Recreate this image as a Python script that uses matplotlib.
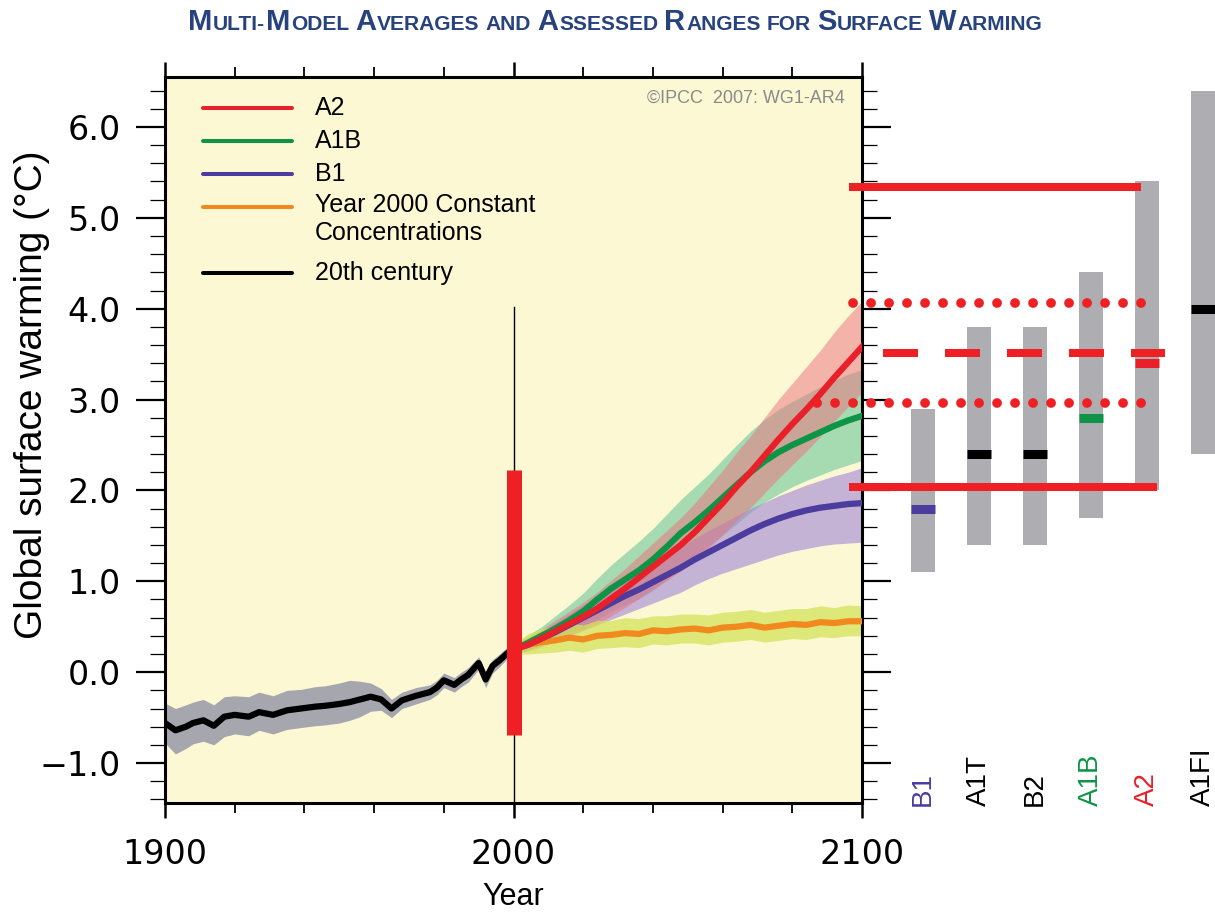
import matplotlib
matplotlib.use('Agg')
import matplotlib.pyplot as plt
from matplotlib.ticker import MultipleLocator, FixedLocator, FuncFormatter
from matplotlib.transforms import IdentityTransform

W, H, DPI = 1215, 914, 100

# ---------------- data ----------------
hist_years = [1900, 1903, 1906, 1908, 1911, 1914, 1917, 1920, 1924, 1927,
              1931, 1935, 1939, 1943, 1946, 1950, 1953, 1956, 1959, 1962,
              1965, 1968, 1972, 1976, 1978, 1980, 1983, 1985, 1987, 1990,
              1992, 1994, 1996, 1998, 2000]
hist_mean = [-0.56, -0.64, -0.60, -0.56, -0.53, -0.59, -0.49, -0.47, -0.49, -0.44,
             -0.47, -0.42, -0.40, -0.38, -0.37, -0.35, -0.33, -0.30, -0.27, -0.30,
             -0.40, -0.31, -0.26, -0.22, -0.17, -0.09, -0.14, -0.08, -0.03, 0.10,
             -0.08, 0.07, 0.13, 0.20, 0.26]
hist_hi = [-0.34, -0.40, -0.36, -0.33, -0.30, -0.36, -0.27, -0.26, -0.27, -0.22,
           -0.26, -0.20, -0.19, -0.16, -0.15, -0.12, -0.09, -0.10, -0.12, -0.18,
           -0.30, -0.22, -0.17, -0.14, -0.09, -0.01, -0.06, 0.00, 0.05, 0.17,
           0.00, 0.14, 0.20, 0.27, 0.32]
hist_lo = [-0.78, -0.90, -0.84, -0.79, -0.76, -0.80, -0.71, -0.68, -0.70, -0.64,
           -0.68, -0.63, -0.61, -0.59, -0.58, -0.56, -0.53, -0.49, -0.43, -0.42,
           -0.50, -0.40, -0.35, -0.30, -0.25, -0.17, -0.22, -0.16, -0.11, 0.03,
           -0.17, -0.01, 0.06, 0.14, 0.20]

future_years = [2000, 2004, 2008, 2012, 2016, 2020, 2024, 2028, 2032, 2036,
                2040, 2044, 2048, 2052, 2056, 2060, 2064, 2068, 2072, 2076,
                2080, 2084, 2088, 2092, 2096, 2100]
a2_mean = [0.25, 0.30, 0.37, 0.45, 0.53, 0.61, 0.70, 0.81, 0.92, 1.04, 1.16, 1.28, 1.40,
           1.54, 1.70, 1.86, 2.04, 2.20, 2.38, 2.56, 2.73, 2.89, 3.06, 3.24, 3.41, 3.58]
a2_hi = [0.30, 0.38, 0.47, 0.57, 0.67, 0.77, 0.88, 1.01, 1.14, 1.28, 1.42, 1.56, 1.70,
         1.86, 2.04, 2.22, 2.42, 2.60, 2.80, 3.00, 3.18, 3.36, 3.54, 3.74, 3.92, 4.08]
a2_lo = [0.20, 0.23, 0.28, 0.34, 0.40, 0.46, 0.53, 0.62, 0.71, 0.81, 0.91, 1.01, 1.11,
         1.23, 1.37, 1.51, 1.67, 1.81, 1.97, 2.13, 2.28, 2.43, 2.59, 2.76, 2.92, 3.08]
a1b_mean = [0.25, 0.32, 0.40, 0.48, 0.57, 0.67, 0.80, 0.92, 1.02, 1.12, 1.24, 1.38, 1.53,
            1.65, 1.78, 1.92, 2.06, 2.20, 2.32, 2.42, 2.50, 2.57, 2.64, 2.71, 2.77, 2.82]
a1b_hi = [0.31, 0.40, 0.50, 0.62, 0.74, 0.87, 1.03, 1.18, 1.31, 1.44, 1.58, 1.74, 1.90,
          2.04, 2.18, 2.34, 2.50, 2.65, 2.78, 2.89, 2.98, 3.06, 3.14, 3.21, 3.28, 3.33]
a1b_lo = [0.19, 0.24, 0.30, 0.35, 0.41, 0.48, 0.58, 0.67, 0.74, 0.81, 0.90, 1.02, 1.16,
          1.27, 1.39, 1.51, 1.63, 1.76, 1.87, 1.96, 2.04, 2.11, 2.17, 2.23, 2.28, 2.33]
b1_mean = [0.25, 0.30, 0.37, 0.44, 0.52, 0.60, 0.68, 0.76, 0.84, 0.91, 0.99, 1.07, 1.15,
           1.24, 1.32, 1.40, 1.48, 1.56, 1.63, 1.69, 1.74, 1.78, 1.81, 1.83, 1.85, 1.86]
b1_hi = [0.29, 0.36, 0.45, 0.54, 0.64, 0.74, 0.83, 0.93, 1.03, 1.11, 1.20, 1.29, 1.38,
         1.47, 1.56, 1.64, 1.72, 1.80, 1.87, 1.94, 2.00, 2.06, 2.11, 2.16, 2.20, 2.25]
b1_lo = [0.21, 0.24, 0.29, 0.34, 0.40, 0.46, 0.52, 0.58, 0.64, 0.70, 0.76, 0.82, 0.88,
         0.96, 1.03, 1.09, 1.14, 1.19, 1.24, 1.29, 1.33, 1.36, 1.39, 1.41, 1.42, 1.43]
const_mean = [0.25, 0.30, 0.33, 0.35, 0.38, 0.36, 0.40, 0.41, 0.43, 0.42, 0.46, 0.45, 0.47,
              0.48, 0.46, 0.49, 0.50, 0.52, 0.49, 0.51, 0.53, 0.52, 0.55, 0.54, 0.56, 0.56]
const_hi = [0.30, 0.42, 0.48, 0.50, 0.54, 0.52, 0.57, 0.57, 0.60, 0.59, 0.62, 0.62, 0.64,
            0.64, 0.63, 0.66, 0.67, 0.69, 0.66, 0.68, 0.70, 0.70, 0.73, 0.71, 0.74, 0.73]
const_lo = [0.20, 0.20, 0.21, 0.22, 0.24, 0.22, 0.26, 0.27, 0.28, 0.27, 0.31, 0.30, 0.32,
            0.32, 0.30, 0.33, 0.34, 0.36, 0.33, 0.35, 0.37, 0.36, 0.39, 0.38, 0.40, 0.40]

scen_labels = ['B1', 'A1T', 'B2', 'A1B', 'A2', 'A1FI']
scen_low = [1.1, 1.4, 1.4, 1.7, 2.0, 2.4]
scen_high = [2.9, 3.8, 3.8, 4.4, 5.4, 6.4]
scen_best = [1.8, 2.4, 2.4, 2.8, 3.4, 4.0]

legend_labels = ['A2', 'A1B', 'B1', 'Year 2000 Constant\nConcentrations', '20th century']

# reference red marks (values in degC)
range_2000 = (-0.69, 2.22)
solid_levels = [5.34, 2.04]
dotted_levels = [4.06, 2.96]
dashed_level = 3.51

# ---------------- style ----------------
RED = '#E8202A'
GREEN = '#0E9447'
PURPLE = '#4B3C9E'
ORANGE = '#F08A1E'
BG = '#FCF8D4'
LAB = 'Liberation Sans'

fig = plt.figure(figsize=(W / DPI, H / DPI), dpi=DPI)
fig.patch.set_facecolor('white')

L, R, B, T = 165, 862, 803, 77
YLIM = (-1.44, 6.55)
ax = fig.add_axes([L / W, 1 - B / H, (R - L) / W, (B - T) / H])
ax.set_facecolor(BG)
ax.set_xlim(1900, 2100)
ax.set_ylim(*YLIM)

# bands
ax.fill_between(hist_years, hist_lo, hist_hi, color='#A6A6AF', lw=0, zorder=2)
ax.fill_between(future_years, a1b_lo, a1b_hi, color='#3DB88A', alpha=0.45, lw=0, zorder=2)
ax.fill_between(future_years, b1_lo, b1_hi, color='#9F86D6', alpha=0.6, lw=0, zorder=2)
ax.fill_between(future_years, a2_lo, a2_hi, color='#EE6F7E', alpha=0.5, lw=0, zorder=2)
ax.fill_between(future_years, const_lo, const_hi, color='#D4E35A', alpha=0.75, lw=0, zorder=2)

# lines
lw_line = 4.5
ax.plot(hist_years, hist_mean, color='black', lw=lw_line, solid_joinstyle='round', zorder=4)
ax.plot(future_years, const_mean, color=ORANGE, lw=lw_line, solid_joinstyle='round', zorder=4)
ax.plot(future_years, b1_mean, color=PURPLE, lw=lw_line, solid_joinstyle='round', zorder=4)
ax.plot(future_years, a1b_mean, color=GREEN, lw=lw_line, solid_joinstyle='round', zorder=4)
ax.plot(future_years, a2_mean, color=RED, lw=lw_line, solid_joinstyle='round', zorder=4)

# year-2000 markers
ax.plot([2000, 2000], [4.02, YLIM[0]], color='black', lw=1.0, zorder=5)
ax.plot([2000, 2000], list(range_2000), color='#EE2024', lw=10.8,
        solid_capstyle='butt', zorder=6)

# ticks
ax.xaxis.set_major_locator(FixedLocator([1900, 2000, 2100]))
ax.xaxis.set_minor_locator(MultipleLocator(20))
ax.yaxis.set_major_locator(MultipleLocator(1))
ax.yaxis.set_minor_locator(MultipleLocator(0.2))


def yfmt(v, p):
    if abs(v) < 1e-9:
        v = 0.0
    return f'{v:.1f}'.replace('-', '\u2212')


ax.yaxis.set_major_formatter(FuncFormatter(yfmt))
ax.tick_params(axis='y', which='major', left=True, right=True, direction='out',
               length=21, width=1.6, labelsize=24, pad=11)
ax.tick_params(axis='y', which='minor', left=True, right=True, direction='out',
               length=11, width=0.9)
ax.tick_params(axis='x', which='major', top=True, bottom=True, direction='out',
               length=11, width=1.8, labelsize=24, pad=14)
ax.tick_params(axis='x', which='minor', top=True, bottom=True, direction='out',
               length=7, width=1.3)
for s in ax.spines.values():
    s.set_linewidth(2.2)

ax.set_xlabel('Year', fontsize=22, family=LAB, labelpad=8)
ax.set_ylabel('Global surface warming (\u00b0C)', fontsize=28, family=LAB)
ax.yaxis.set_label_coords((50 - L) / (R - L), (B - 395) / (B - T))

# legend (manual)
leg_colors = [RED, GREEN, PURPLE, ORANGE, 'black']
leg_y = [0.957, 0.912, 0.867, 0.821, 0.730]
for c, yy, lab in zip(leg_colors, leg_y, legend_labels):
    ax.plot([0.0545, 0.182], [yy, yy], color=c, lw=2.9, transform=ax.transAxes,
            solid_capstyle='round', zorder=7)
    two = '\n' in lab
    ax.text(0.215, yy + (0.019 if two else 0), lab, transform=ax.transAxes,
            fontsize=18, family=LAB, va='top' if two else 'center', ha='left',
            linespacing=1.2, zorder=7)

ax.text(0.9756, 0.971, '\u00a9IPCC  2007: WG1-AR4', transform=ax.transAxes,
        fontsize=13, family=LAB, color='#8A8A8A', ha='right', va='center')

# ---------------- right panel ----------------
ax2 = fig.add_axes([R / W, 1 - B / H, (W - R) / W, (B - T) / H], zorder=3)
ax2.set_xlim(-1.089, 5.214)
ax2.set_ylim(*YLIM)
ax2.axis('off')
xs = list(range(len(scen_labels)))
bw = 0.43
ax2.bar(xs, [h - l for h, l in zip(scen_high, scen_low)], bottom=scen_low,
        width=bw, color='#ADADB2', zorder=2)
best_colors = [PURPLE, 'black', 'black', GREEN, RED, 'black']
for x, b, c in zip(xs, scen_best, best_colors):
    ax2.plot([x - bw / 2, x + bw / 2], [b, b], color=c, lw=6.5,
             solid_capstyle='butt', zorder=3)
lab_colors = [PURPLE, 'black', 'black', GREEN, RED, 'black']
for x, lab, c in zip(xs, scen_labels, lab_colors):
    ax2.text(x, -1.474, lab, rotation=90, ha='center', va='bottom', color=c,
             fontsize=20, family=LAB)

# red assessment lines (extend into main axes)
RED2 = '#EE2024'
lwr = 5.76
ax2.plot([-1.321, 3.893], [solid_levels[0]] * 2, color=RED2, lw=lwr,
         solid_capstyle='butt', clip_on=False, zorder=5)
ax2.plot([-1.321, 4.179], [solid_levels[1]] * 2, color=RED2, lw=lwr,
         solid_capstyle='butt', clip_on=False, zorder=5)
lwd = 7.0
dot_style = (0, (0.01, 18 / (lwd / 0.72) - 0.01))
ax2.plot([-1.25, 4.20], [dotted_levels[0]] * 2, color=RED2, lw=lwd,
         linestyle=dot_style, dash_capstyle='round', clip_on=False, zorder=5)
ax2.plot([-1.893, 4.20], [dotted_levels[1]] * 2, color=RED2, lw=lwd,
         linestyle=dot_style, dash_capstyle='round', clip_on=False, zorder=5)
ax2.plot([-0.714, 4.32], [dashed_level] * 2, color=RED2, lw=lwr,
         linestyle=(0, (4.375, 3.375)), dash_capstyle='butt', clip_on=False, zorder=5)

# ---------------- small-caps title ----------------
title = 'Multi-Model Averages and Assessed Ranges for Surface Warming'
renderer = fig.canvas.get_renderer()


def build_runs(text):
    runs = []
    for ch in text:
        big = ch.isupper()
        s = ch if big else ch.upper()
        if runs and runs[-1][1] == big and ch != ' ' and runs[-1][0][-1] != ' ':
            runs[-1][0] += s
        else:
            runs.append([s, big])
    return runs


def draw_title(big, small, x0, ybase, dry=False):
    x = x0
    arts = []
    for s, isbig in build_runs(title):
        size = big if isbig else small
        if s == ' ':
            x += 0.26 * small * DPI / 72
            continue
        t = fig.text(x, ybase, s, transform=IdentityTransform(), fontsize=size,
                     fontweight='bold', family=LAB, color='#27427C',
                     ha='left', va='baseline')
        w = t.get_window_extent(renderer).width
        x += w + 0.04 * size
        arts.append(t)
    if dry:
        for a in arts:
            a.remove()
    return x - x0


base_big, base_small = 18, 13
wid = draw_title(base_big, base_small, 0, 0, dry=True)
f = 859 / wid
wid = draw_title(base_big * f, base_small * f, 0, 0, dry=True)
draw_title(base_big * f, base_small * f, 186 + (859 - wid) / 2, H - 30)

fig.savefig('out.png', dpi=DPI, facecolor='white')
